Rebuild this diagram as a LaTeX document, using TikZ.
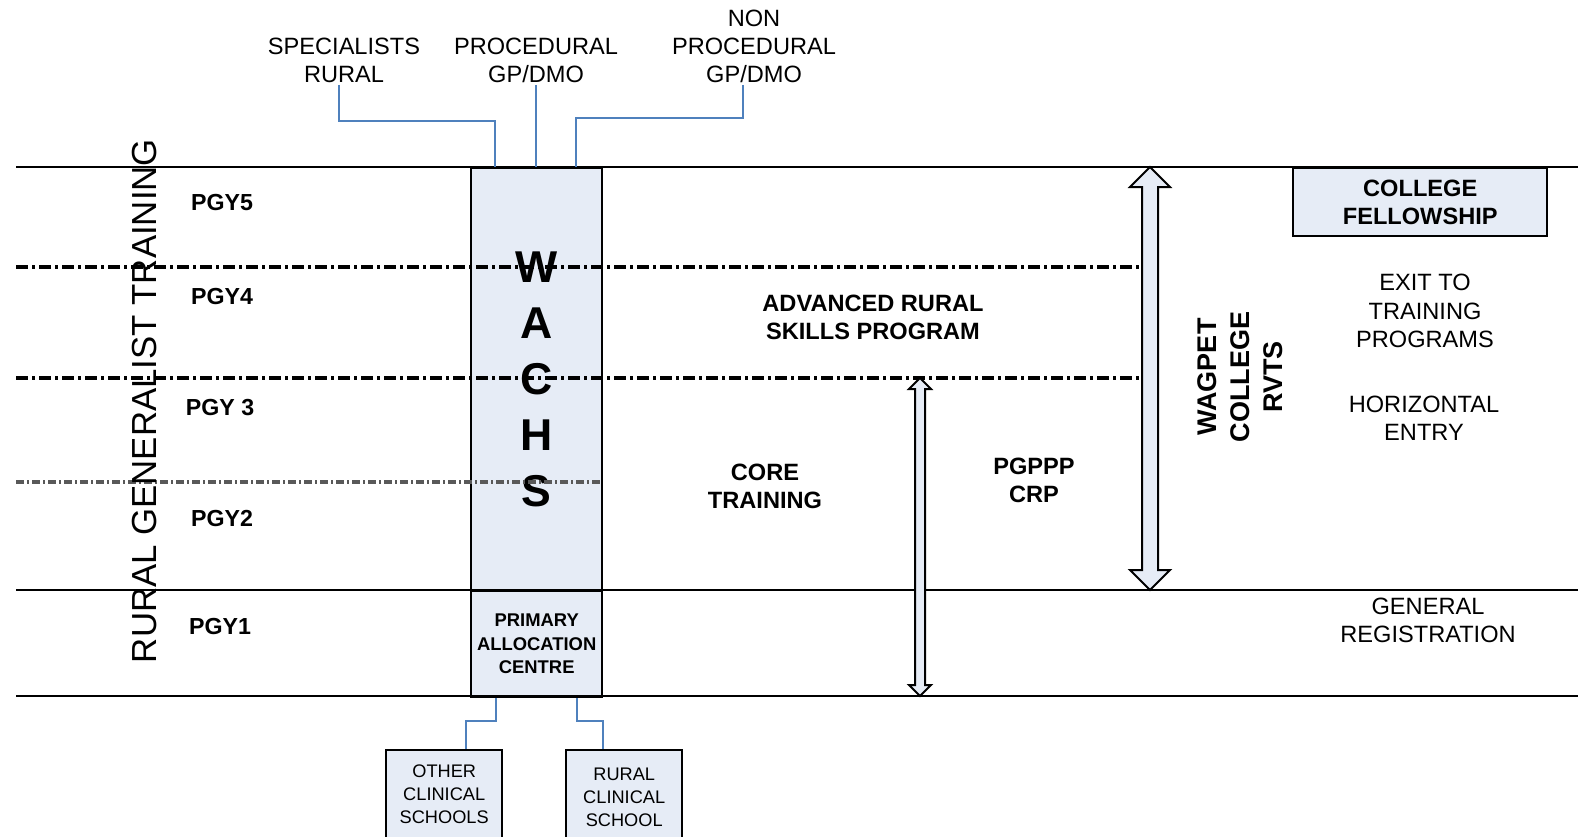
\documentclass[tikz,border=0pt]{standalone}
\usepackage{fontspec}
\setmainfont{Liberation Sans}
\usepackage{tikz}
\usetikzlibrary{shapes.arrows}
\usetikzlibrary{positioning}

\definecolor{paleblue}{RGB}{230,236,246}
\definecolor{wireblue}{RGB}{79,129,189}

\begin{document}
\begin{tikzpicture}[x=0.5pt, y=-0.5pt,
        lab/.style={font=\fontsize{11.8}{14}\selectfont, align=center, inner sep=1pt},
        blab/.style={lab, font=\fontsize{11.8}{14}\selectfont\bfseries},
        pgy/.style={font=\fontsize{11.6}{14}\selectfont\bfseries, inner sep=1pt},
        tinted/.style={draw, line width=1.2pt, fill=paleblue, inner sep=0pt, align=center, anchor=north west},
        wire/.style={wireblue, line width=1pt},
        band/.style={line width=1.1pt},
        dashband/.style={line width=1.6pt, dash pattern=on 6pt off 2pt on 1.5pt off 2pt},
        thinband/.style={line width=2pt, black!65, dash pattern=on 4pt off 1.5pt on 1pt off 1.5pt},
        bigarrow/.style={double arrow, draw, line width=1pt, fill=paleblue, rotate=90}]
        \useasboundingbox (0,0) rectangle (1578,836);
        \clip (0,0) rectangle (1578,836);
        % boxes
        \node[tinted, minimum width=65.5pt, minimum height=211.5pt, font=\fontsize{22.3}{28}\selectfont\bfseries] (wachs) at (470,167) {W\\A\\C\\H\\S};
        \node[tinted, minimum width=65.5pt, minimum height=53pt, font=\fontsize{9.2}{11.75}\selectfont\bfseries] (pac) at (470,590) {PRIMARY\\ALLOCATION\\CENTRE};
        \node[tinted, minimum width=127pt, minimum height=34pt, font=\fontsize{11.8}{14}\selectfont\bfseries] (fellow) at (1292,167) {COLLEGE\\FELLOWSHIP};
        \node[tinted, minimum width=58pt, minimum height=44.5pt, font=\fontsize{9.1}{11.5}\selectfont] (other) at (385,749) {OTHER\\CLINICAL\\SCHOOLS};
        \node[tinted, minimum width=58pt, minimum height=47pt, font=\fontsize{9.1}{11.5}\selectfont] (rcs) at (565,749) {RURAL\\CLINICAL\\SCHOOL};
        % year bands
        \foreach \y in {167,590,696}
            \draw[band] (16,\y) -- (1578,\y);
        \foreach \y in {267,378}
            \draw[dashband] (16,\y) -- (1143,\y);
        \draw[thinband] (16,482) -- (600,482);
        % arrows
        \node[bigarrow, minimum height=211.5pt, minimum width=19pt, inner sep=3.5pt, double arrow head extend=6pt] (wagpet) at (1150,378.5) {};
        \node[bigarrow, minimum height=159pt, minimum width=10pt, inner sep=2pt, double arrow head extend=3pt] (pgppp) at (920,537) {};
        % labels
        \node[pgy] (pgy5) at (222,203) {PGY5};
        \node[pgy] (pgy4) at (222,297) {PGY4};
        \node[pgy] (pgy3) at (220,408) {PGY 3};
        \node[pgy] (pgy2) at (222,519) {PGY2};
        \node[pgy] (pgy1) at (220,626) {PGY1};
        \node[lab, rotate=90, font=\fontsize{17.4}{20}\selectfont] (rgt) at (145,401) {RURAL GENERALIST TRAINING};
        \node[blab] (arsp) at (873,317) {ADVANCED RURAL\\SKILLS PROGRAM};
        \node[blab] (core) at (765,486) {CORE\\TRAINING};
        \node[blab] (crp) at (1034,480) {PGPPP\\CRP};
        \node[blab, rotate=90, font=\fontsize{13.5}{16.5}\selectfont\bfseries] (wrv) at (1240,377) {WAGPET\\COLLEGE\\RVTS};
        \node[lab, font=\fontsize{11.8}{14.25}\selectfont] (exit) at (1425,311) {EXIT TO\\TRAINING\\PROGRAMS};
        \node[lab] (horiz) at (1424,418) {HORIZONTAL\\ENTRY};
        \node[lab] (genreg) at (1428,620) {GENERAL\\REGISTRATION};
        \node[lab] (spec) at (344,60) {SPECIALISTS\\RURAL};
        \node[lab] (proc) at (536,60) {PROCEDURAL\\GP/DMO};
        \node[lab] (nonp) at (754,46) {NON\\PROCEDURAL\\GP/DMO};
        % feeders
        \coordinate (w1) at ([xshift=-20.75pt]wachs.north);
        \coordinate (w3) at ([xshift=19.75pt]wachs.north);
        \draw[wire] ([xshift=-2.5pt]spec.south) -- ++(0,36) -| (w1);
        \draw[wire] (proc.south) -- (proc.south |- wachs.north);
        \draw[wire] ([xshift=-5.5pt]nonp.south) -- ++(0,33) -| (w3);
        \draw[wire] ([xshift=-20.25pt]pac.south) -- ++(0,23) -| ([xshift=11pt]other.north);
        \draw[wire] ([xshift=20.25pt]pac.south) -- ++(0,23) -| ([xshift=-10.5pt]rcs.north);
\end{tikzpicture}
\end{document}
